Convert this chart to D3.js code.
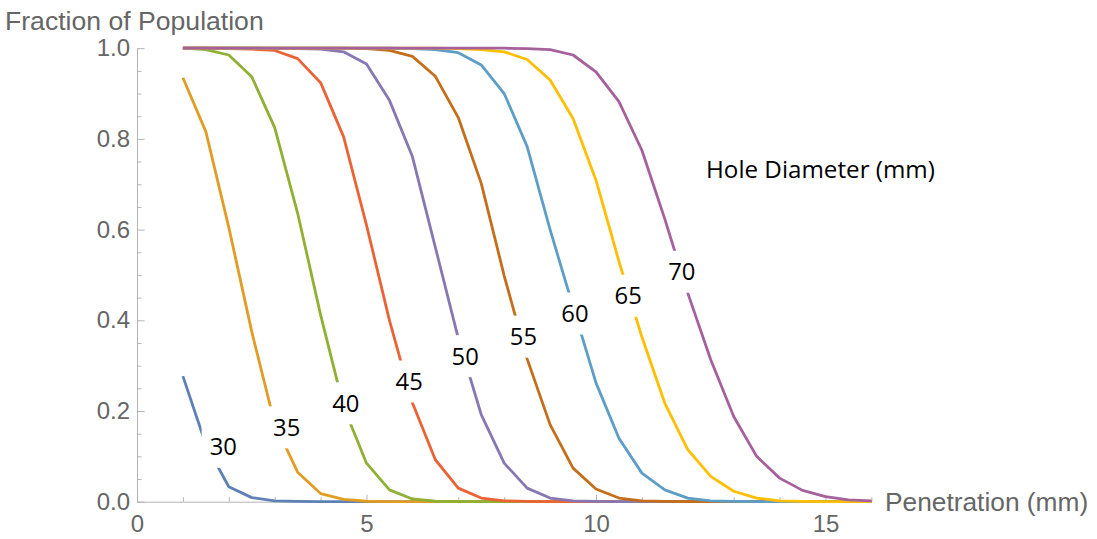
<!DOCTYPE html>
<html>
<head>
<meta charset="utf-8">
<script src="https://cdn.jsdelivr.net/npm/d3@7/dist/d3.min.js"></script>
<style>
  html, body { margin: 0; padding: 0; background: #ffffff; }
  svg { display: block; }
</style>
</head>
<body>
<svg id="chart" width="1097" height="539"></svg>
<script>
// Penetration depth (mm) at which each population fraction was evaluated
const penetration = [1, 1.5, 2, 2.5, 3, 3.5, 4, 4.5, 5, 5.5, 6, 6.5, 7, 7.5, 8, 8.5,
                     9, 9.5, 10, 10.5, 11, 11.5, 12, 12.5, 13, 13.5, 14, 14.5, 15, 15.5, 16];

// Hole diameters (mm), one curve each
const holeDiameters = [30, 35, 40, 45, 50, 55, 60, 65, 70];

// Fraction of population still penetrating, per hole diameter
const frac30 = [0.277, 0.126, 0.033, 0.009, 0.002, 0.0005, 0.0001, 0, 0, 0, 0, 0, 0, 0, 0, 0,
                0, 0, 0, 0, 0, 0, 0, 0, 0, 0, 0, 0, 0, 0, 0];
const frac35 = [0.935, 0.816, 0.605, 0.375, 0.172, 0.065, 0.018, 0.005, 0.001, 0.0003, 0, 0, 0, 0, 0, 0,
                0, 0, 0, 0, 0, 0, 0, 0, 0, 0, 0, 0, 0, 0, 0];
const frac40 = [1, 0.997, 0.985, 0.937, 0.825, 0.636, 0.412, 0.21, 0.085, 0.026, 0.006, 0.001, 0.0003, 0, 0, 0,
                0, 0, 0, 0, 0, 0, 0, 0, 0, 0, 0, 0, 0, 0, 0];
const frac45 = [1, 1, 0.999, 0.998, 0.995, 0.977, 0.924, 0.805, 0.61, 0.40, 0.218, 0.0925, 0.030, 0.008, 0.002, 0.0005,
                0, 0, 0, 0, 0, 0, 0, 0, 0, 0, 0, 0, 0, 0, 0];
const frac50 = [1, 1, 1, 1, 0.999, 0.999, 0.998, 0.992, 0.965, 0.885, 0.761, 0.561, 0.36, 0.192, 0.085, 0.030,
                0.008, 0.002, 0.0005, 0, 0, 0, 0, 0, 0, 0, 0, 0, 0, 0, 0];
const frac55 = [1, 1, 1, 1, 1, 1, 1, 1, 0.999, 0.995, 0.982, 0.938, 0.847, 0.702, 0.498, 0.315,
                0.17, 0.074, 0.028, 0.008, 0.002, 0.0005, 0, 0, 0, 0, 0, 0, 0, 0, 0];
const frac60 = [1, 1, 1, 1, 1, 1, 1, 1, 1, 1, 0.999, 0.997, 0.99, 0.963, 0.900, 0.783,
                0.60, 0.43, 0.262, 0.14, 0.063, 0.026, 0.008, 0.002, 0.0005, 0, 0, 0, 0, 0, 0];
const frac65 = [1, 1, 1, 1, 1, 1, 1, 1, 1, 1, 1, 1, 0.999, 0.997, 0.992, 0.975,
                0.930, 0.845, 0.709, 0.53, 0.363, 0.217, 0.115, 0.056, 0.023, 0.008, 0.002, 0.0005, 0, 0, 0];
const frac70 = [1, 1, 1, 1, 1, 1, 1, 1, 1, 1, 1, 1, 1, 1, 1, 0.999,
                0.997, 0.985, 0.948, 0.882, 0.775, 0.623, 0.46, 0.313, 0.188, 0.10, 0.052, 0.025, 0.011, 0.004, 0.002];

// Where each curve's diameter label sits (data coordinates)
const labelPenetration = [1.88, 3.26, 4.55, 5.93, 7.15, 8.42, 9.54, 10.70, 11.87];
const labelFraction    = [0.121, 0.164, 0.217, 0.265, 0.321, 0.364, 0.415, 0.454, 0.507];

// Axis ticks
const xMajorTicks = [0, 5, 10, 15];
const xMinorTicks = [1, 2, 3, 4, 6, 7, 8, 9, 11, 12, 13, 14, 16];
const yMajorTicks = [0, 0.2, 0.4, 0.6, 0.8, 1.0];
const yMinorTicks = [0.05, 0.1, 0.15, 0.25, 0.3, 0.35, 0.45, 0.5, 0.55, 0.65, 0.7, 0.75, 0.85, 0.9, 0.95];

const seriesValues = [frac30, frac35, frac40, frac45, frac50, frac55, frac60, frac65, frac70];
const colors = ["#5E81B5", "#E19C24", "#8FB032", "#EB6235", "#8778B3",
                "#C56E1A", "#5D9EC7", "#FFBF00", "#A5609D"];

const svg = d3.select("#chart");
const axisGray = "#b4b4b4";
const textGray = "#666666";
const axisFont = "'Liberation Sans', Arial, sans-serif";
const labelFont = "'Open Sans', 'Noto Sans', sans-serif";

const x = d3.scaleLinear().domain([0, 16]).range([137, 871.4]);
const y = d3.scaleLinear().domain([0, 1]).range([501.7, 48.2]);

// ---- axes ----
function styleAxis(g) {
  g.selectAll("path.domain").attr("stroke", axisGray).attr("stroke-width", 1);
  g.selectAll(".tick line").attr("stroke", axisGray).attr("stroke-width", 1);
  g.selectAll(".tick text").attr("fill", textGray)
    .style("font-family", axisFont).style("font-size", "24px");
}

const yMinor = svg.append("g").attr("transform", `translate(${x(0)},0)`)
  .call(d3.axisLeft(y).tickValues(yMinorTicks).tickFormat("").tickSizeInner(-4.5).tickSizeOuter(0));
yMinor.select("path.domain").remove();
styleAxis(yMinor);

const xMinor = svg.append("g").attr("transform", `translate(0,${y(0)})`)
  .call(d3.axisBottom(x).tickValues(xMinorTicks).tickFormat("").tickSizeInner(-4.5).tickSizeOuter(0));
xMinor.select("path.domain").remove();
styleAxis(xMinor);

const yAxis = svg.append("g").attr("transform", `translate(${x(0)},0)`)
  .call(d3.axisLeft(y).tickValues(yMajorTicks).tickFormat(d3.format(".1f"))
    .tickSizeInner(-7.5).tickSizeOuter(0).tickPadding(7));
styleAxis(yAxis);

const xAxis = svg.append("g").attr("transform", `translate(0,${y(0)})`)
  .call(d3.axisBottom(x).tickValues(xMajorTicks).tickFormat(d3.format("d"))
    .tickSizeInner(-7).tickSizeOuter(0).tickPadding(13));
styleAxis(xAxis);

// Axis titles
svg.append("text")
  .attr("x", 5).attr("y", 29.5)
  .attr("fill", textGray)
  .style("font-family", axisFont).style("font-size", "26.6px")
  .text("Fraction of Population");

svg.append("text")
  .attr("x", 885).attr("y", 511)
  .attr("fill", textGray)
  .style("font-family", axisFont).style("font-size", "26.3px")
  .text("Penetration (mm)");

// ---- curves ----
const line = d3.line()
  .x((d, i) => x(penetration[i]))
  .y(d => y(d));

svg.append("g").selectAll("path")
  .data(seriesValues)
  .join("path")
  .attr("d", d => line(d))
  .attr("fill", "none")
  .attr("stroke", (d, i) => colors[i])
  .attr("stroke-width", 2.8)
  .attr("stroke-linejoin", "round")
  .attr("stroke-linecap", "butt");

// ---- diameter labels, each knocking a gap out of its curve ----
const labels = svg.append("g").selectAll("g")
  .data(holeDiameters)
  .join("g")
  .attr("transform", (d, i) => `translate(${x(labelPenetration[i])},${y(labelFraction[i])})`);

labels.append("rect").attr("fill", "#ffffff");
labels.append("text")
  .attr("text-anchor", "middle")
  .attr("dy", "0.355em")
  .attr("fill", "#000000")
  .style("font-family", labelFont)
  .style("font-size", "23.8px")
  .text(d => String(d));

labels.each(function () {
  const g = d3.select(this);
  const w = g.select("text").node().getComputedTextLength();
  g.select("rect")
    .attr("x", -w / 2 - 8).attr("width", w + 16)
    .attr("y", -21).attr("height", 42);
});

svg.append("text")
  .attr("x", 706).attr("y", 178)
  .attr("fill", "#000000")
  .style("font-family", labelFont)
  .style("font-size", "24.2px")
  .text("Hole Diameter (mm)");
</script>
</body>
</html>
